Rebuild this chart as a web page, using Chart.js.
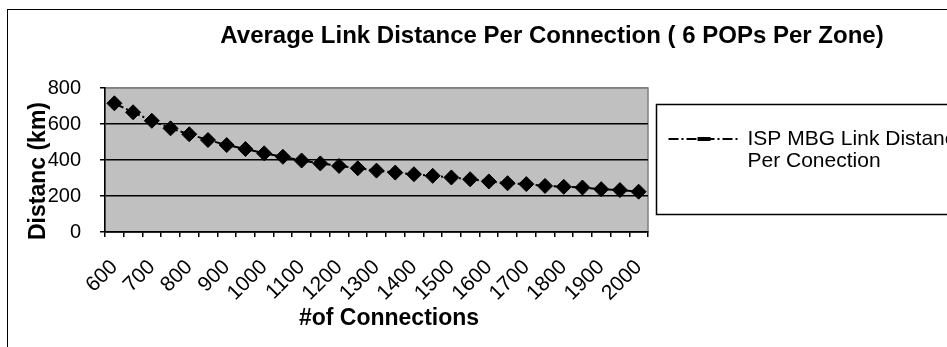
<!DOCTYPE html>
<html>
<head>
<meta charset="utf-8">
<script src="https://cdn.jsdelivr.net/npm/chart.js@4.4.1/dist/chart.umd.min.js"></script>
<style>
  html, body { margin: 0; padding: 0; background: #fff; overflow: hidden; }
  #wrap { width: 947px; height: 347px; }
</style>
</head>
<body>
<div id="wrap"><canvas id="c" width="947" height="347"></canvas></div>
<script>
// Number of connections (category axis)
const connections = [600, 650, 700, 750, 800, 850, 900, 950, 1000, 1050,
  1100, 1150, 1200, 1250, 1300, 1350, 1400, 1450, 1500, 1550,
  1600, 1650, 1700, 1750, 1800, 1850, 1900, 1950, 2000];
// Average link distance per connection (km)
const linkDistance = [715, 665, 618, 576, 543, 511, 483, 461, 437, 418,
  397, 381, 367, 354, 341, 330, 321, 312, 303, 293,
  281, 271, 266, 256, 251, 247, 238, 233, 224];
// Category labels printed under the axis
const xTickLabels = ['600', '700', '800', '900', '1000', '1100', '1200', '1300',
  '1400', '1500', '1600', '1700', '1800', '1900', '2000'];
// Value axis ticks
const yTickValues = [0, 200, 400, 600, 800];

const chartTitle = 'Average Link Distance Per Connection ( 6 POPs Per Zone)';
const xAxisTitle = '#of Connections';
const yAxisTitle = 'Distanc (km)';
const seriesLabel = ['ISP MBG Link Distance', 'Per Conection'];

const FONT = "'Liberation Sans', Arial, sans-serif";
const DASH = [10, 3, 2, 3];

// Plot background, frame, titles and legend box
const decor = {
  id: 'decor',
  beforeDraw(chart) {
    const { ctx, chartArea: a } = chart;
    ctx.save();
    ctx.fillStyle = '#fff';
    ctx.fillRect(0, 0, chart.width, chart.height);
    ctx.fillStyle = '#c0c0c0';
    ctx.fillRect(a.left, a.top, a.right - a.left, a.bottom - a.top);
    ctx.strokeStyle = '#808080';
    ctx.lineWidth = 1.5;
    ctx.strokeRect(a.left, a.top, a.right - a.left, a.bottom - a.top);
    ctx.restore();
  },
  afterDraw(chart) {
    const { ctx, chartArea: a } = chart;
    ctx.save();
    // outer chart frame
    ctx.strokeStyle = '#000';
    ctx.lineWidth = 1;
    ctx.strokeRect(7.5, 9.5, 1000, 400);

    // chart title
    ctx.fillStyle = '#000';
    ctx.font = 'bold 24px ' + FONT;
    ctx.textAlign = 'center';
    ctx.textBaseline = 'middle';
    ctx.fillText(chartTitle, 552, 36);

    // category axis title
    ctx.font = 'bold 23px ' + FONT;
    ctx.fillText(xAxisTitle, 389, 319);

    // value axis title
    ctx.save();
    ctx.translate(39, (a.top + a.bottom) / 2 + 11);
    ctx.rotate(-Math.PI / 2);
    ctx.fillText(yAxisTitle, 0, 0);
    ctx.restore();

    // legend
    const lx = 656.5, ly = 104.5;
    ctx.lineWidth = 1.5;
    ctx.strokeRect(lx, ly, 400, 110);
    ctx.beginPath();
    ctx.setLineDash(DASH);
    ctx.lineWidth = 2;
    ctx.moveTo(lx + 12, 139);
    ctx.lineTo(lx + 81, 139);
    ctx.stroke();
    ctx.setLineDash([]);
    ctx.fillRect(lx + 41, 137, 13, 4);
    ctx.font = '21px ' + FONT;
    ctx.textAlign = 'left';
    ctx.fillText(seriesLabel[0], lx + 91, 139);
    ctx.fillText(seriesLabel[1], lx + 91, 161);
    ctx.restore();
  }
};

new Chart(document.getElementById('c'), {
  type: 'line',
  data: {
    labels: connections.map(String),
    datasets: [{
      label: seriesLabel.join(' '),
      data: linkDistance,
      borderColor: '#000',
      backgroundColor: '#000',
      borderWidth: 2,
      borderDash: DASH,
      tension: 0,
      pointStyle: 'rectRot',
      pointRadius: 7.5,
      pointBorderWidth: 1,
      pointBackgroundColor: '#000',
      pointBorderColor: '#000'
    }]
  },
  options: {
    responsive: false,
    animation: false,
    devicePixelRatio: 1,
    layout: { padding: { left: 0, top: 88, right: 299, bottom: 0 } },
    plugins: {
      legend: { display: false },
      title: { display: false },
      tooltip: { enabled: false }
    },
    scales: {
      x: {
        type: 'category',
        offset: true,
        afterFit(scale) { scale.height = 115; },
        grid: {
          offset: true,
          drawOnChartArea: false,
          drawTicks: true,
          tickLength: 5,
          color: '#000',
          lineWidth: 1.5
        },
        border: { color: '#000', width: 1.5 },
        ticks: {
          autoSkip: false,
          maxRotation: 45,
          minRotation: 45,
          padding: 18,
          color: '#000',
          font: { family: FONT, size: 21 },
          callback(value) {
            const lab = this.getLabelForValue(value);
            return xTickLabels.includes(lab) ? lab : '';
          }
        }
      },
      y: {
        min: yTickValues[0],
        max: yTickValues[yTickValues.length - 1],
        afterFit(scale) { scale.width = 105; },
        afterBuildTicks(scale) { scale.ticks = yTickValues.map(v => ({ value: v })); },
        grid: {
          color: c => (c.tick && c.tick.value === 800 ? '#808080' : '#000'),
          lineWidth: 1.5,
          drawTicks: true,
          tickLength: 5,
          tickColor: '#000'
        },
        border: { color: '#000', width: 1.5 },
        ticks: {
          padding: 19,
          color: '#000',
          font: { family: FONT, size: 20 }
        }
      }
    }
  },
  plugins: [decor]
});
</script>
</body>
</html>
